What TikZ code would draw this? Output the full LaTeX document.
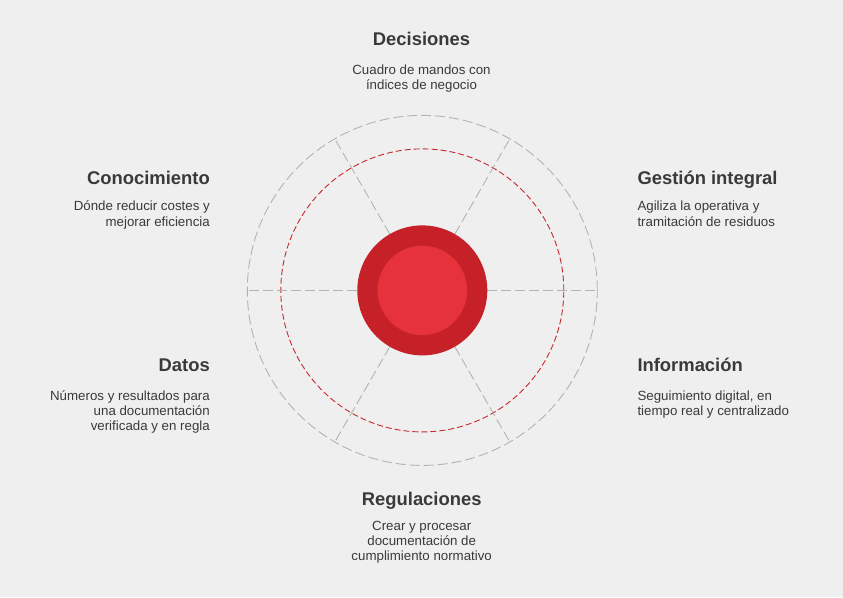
\documentclass[tikz,border=0pt]{standalone}
\usepackage{fontspec}
\setmainfont{Liberation Sans}
\definecolor{bgc}{HTML}{EFEFEF}
\definecolor{ringgray}{HTML}{B3B3B3}
\definecolor{ringred}{HTML}{C8272D}
\definecolor{coredark}{HTML}{C62028}
\definecolor{corelight}{HTML}{E5323B}
\definecolor{txt}{HTML}{3A3A3A}
\tikzset{
  titletext/.style={font=\fontsize{18.4}{22}\selectfont\bfseries, text=txt, inner sep=0pt},
  bodytext/.style={font=\fontsize{13.3}{15.4}\selectfont, text=txt, inner sep=0pt},
  ringnode/.style={circle, inner sep=0pt, outer sep=0pt},
  grayring/.style={draw=ringgray, line width=0.9pt, dash pattern=on 10pt off 4pt},
  redring/.style={draw=ringred, line width=0.9pt, dash pattern=on 6pt off 3pt},
  spoke/.style={draw=ringgray, line width=0.9pt, dash pattern=on 10pt off 4pt}
}
\begin{document}
\begin{tikzpicture}[x=1pt,y=-1pt]
\fill[bgc] (0,0) rectangle (843,597);
\useasboundingbox (0,0) rectangle (843,597);
% rings
\node[ringnode, grayring, minimum size=350pt] (outer) at (422.3,290.4) {};
\node[ringnode, redring, minimum size=283pt] (redr) at (422.3,290.4) {};
\node[ringnode, minimum size=130pt] (core) at (422.3,290.4) {};
\foreach \a in {0,60,120,180,240,300}
  \draw[spoke] (core.\a) -- (outer.\a);
\node[ringnode, fill=coredark, minimum size=130pt] (coreD) at (422.3,290.4) {};
\node[ringnode, fill=corelight, minimum size=89.5pt] (coreL) at (422.3,290.4) {};
% texts (body nodes anchored at the baseline of their last line)
\node[titletext, anchor=base] (tDec) at (421.5,45.7) {Decisiones};
\node[bodytext, anchor=base, align=center] (bDec) at (421.5,89.9) {Cuadro de mandos con\\índices de negocio};
\node[titletext, anchor=base east] (tCon) at (210,184.3) {Conocimiento};
\node[bodytext, anchor=base east, align=right] (bCon) at (210,226.1) {Dónde reducir costes y\\mejorar eficiencia};
\node[titletext, anchor=base west] (tGes) at (637.3,184.3) {Gestión integral};
\node[bodytext, anchor=base west, align=left] (bGes) at (637.3,226.1) {Agiliza la operativa y\\tramitación de residuos};
\node[titletext, anchor=base east] (tDat) at (210,371.7) {Datos};
\node[bodytext, anchor=base east, align=right] (bDat) at (210,430.8) {Números y resultados para\\una documentación\\verificada y en regla};
\node[titletext, anchor=base west] (tInf) at (637.3,371.7) {Información};
\node[bodytext, anchor=base west, align=left] (bInf) at (637.3,415.4) {Seguimiento digital, en\\tiempo real y centralizado};
\node[titletext, anchor=base] (tReg) at (421.7,505) {Regulaciones};
\node[bodytext, anchor=base, align=center] (bReg) at (421.7,560.8) {Crear y procesar\\documentación de\\cumplimiento normativo};
\end{tikzpicture}
\end{document}
